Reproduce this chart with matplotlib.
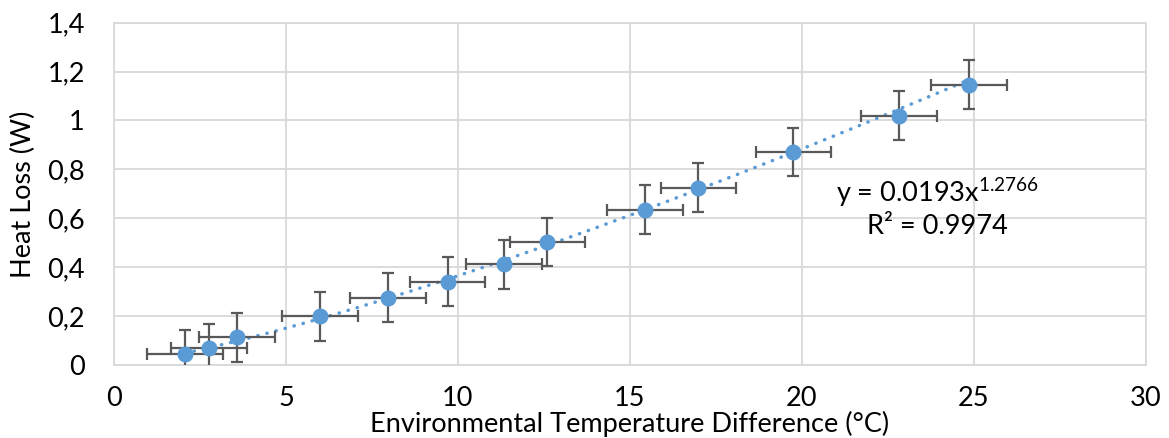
import matplotlib
matplotlib.use("Agg")
import matplotlib.pyplot as plt
import numpy as np

# Data
temp_diff = [2.06, 2.77, 3.58, 5.98, 7.97, 9.70, 11.33, 12.60, 15.44, 16.99, 19.75, 22.82, 24.86]
heat_loss = [0.045, 0.068, 0.113, 0.200, 0.275, 0.340, 0.411, 0.503, 0.635, 0.725, 0.871, 1.020, 1.147]
x_err = [1.1] * len(temp_diff)
y_err = [0.1] * len(temp_diff)
fit_coef = 0.0193
fit_exp = 1.2766
r_squared = 0.9974
x_ticks = [0, 5, 10, 15, 20, 25, 30]
y_ticks = [0, 0.2, 0.4, 0.6, 0.8, 1.0, 1.2, 1.4]
y_tick_labels = ["0", "0,2", "0,4", "0,6", "0,8", "1", "1,2", "1,4"]

plt.rcParams['font.family'] = ['Lato', 'DejaVu Sans']
plt.rcParams['mathtext.fontset'] = 'custom'
plt.rcParams['mathtext.rm'] = 'Lato'
plt.rcParams['mathtext.it'] = 'Lato'

FS = 19.5

fig = plt.figure(figsize=(11.69, 4.38), dpi=100)
ax = fig.add_axes([0.0975, 0.1667, 0.8828, 0.7815])

blue = '#5b9bd5'
grey = '#595959'
grid_c = '#d9d9d9'

# trendline
xs = np.linspace(min(temp_diff), max(temp_diff), 300)
ax.plot(xs, fit_coef * xs ** fit_exp, color=blue, lw=2.5,
        linestyle=(0, (0.1, 2.6)), dash_capstyle='round', zorder=2)

ax.errorbar(temp_diff, heat_loss, xerr=x_err, yerr=y_err, fmt='none',
            ecolor=grey, elinewidth=1.6, capsize=4.5, capthick=1.6, zorder=3)
ax.plot(temp_diff, heat_loss, 'o', color=blue, markersize=10.5, zorder=4)

ax.set_xlim(0, 30)
ax.set_ylim(0, 1.4)
ax.set_xticks(x_ticks)
ax.set_yticks(y_ticks)
ax.set_yticklabels(y_tick_labels)
ax.tick_params(axis='both', length=0, labelsize=FS, colors='black')
ax.tick_params(axis='x', pad=15)
ax.tick_params(axis='y', pad=21)
ax.grid(True, color=grid_c, lw=1.3, zorder=0)
ax.set_axisbelow(True)
for s in ax.spines.values():
    s.set_color(grid_c)
    s.set_linewidth(1.3)

ax.set_xlabel('Environmental Temperature Difference (°C)', fontsize=FS, labelpad=0)
ax.set_ylabel('Heat Loss (W)', fontsize=FS, labelpad=8)

ax.text(0.798, 0.505, 'y = 0.0193x$^{1.2766}$', transform=ax.transAxes,
        ha='center', va='center', fontsize=FS)
ax.text(0.798, 0.406, 'R² = 0.9974', transform=ax.transAxes,
        ha='center', va='center', fontsize=FS)

fig.savefig('out.png', dpi=100)
